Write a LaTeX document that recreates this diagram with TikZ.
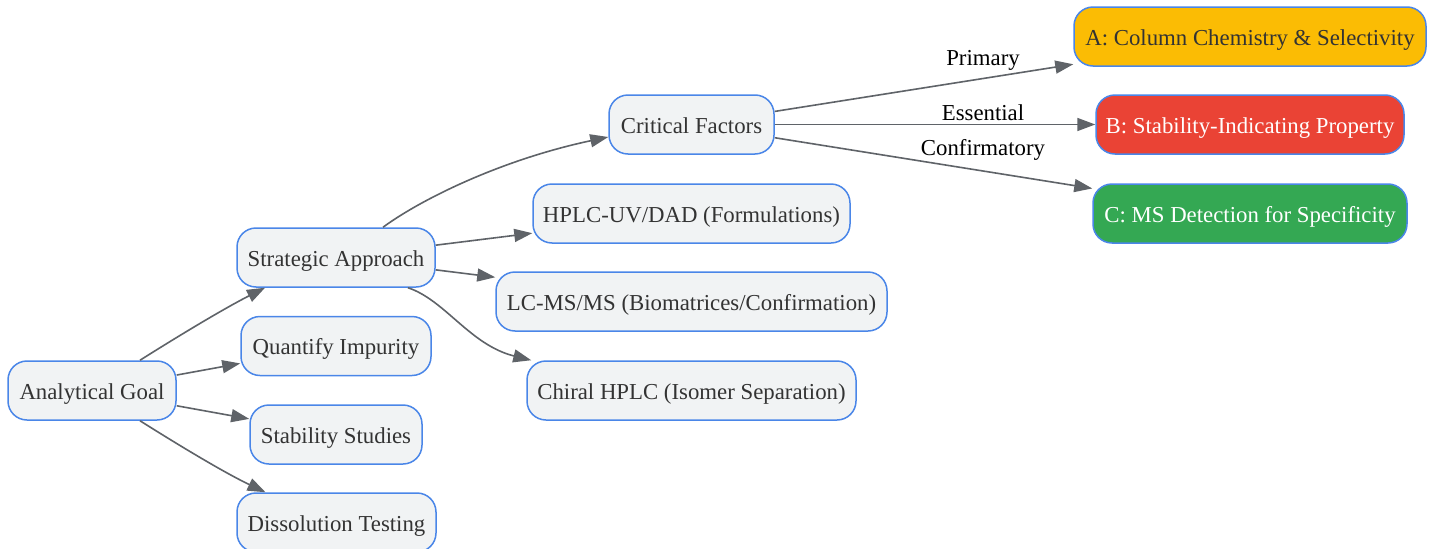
\documentclass[tikz,border=0pt]{standalone}
\usepackage{fontspec}
\setmainfont{Liberation Serif}
\usetikzlibrary{arrows.meta,calc}
\definecolor{nodefill}{HTML}{F1F3F4}
\definecolor{nodeborder}{HTML}{4A86E8}
\definecolor{edgecol}{HTML}{5F6368}
\definecolor{txt}{HTML}{333333}
\definecolor{yel}{HTML}{FBBC04}
\definecolor{red}{HTML}{EA4335}
\definecolor{grn}{HTML}{34A853}
\tikzset{
  box/.style={draw=nodeborder, fill=nodefill, line width=1.5pt, rounded corners=19pt,
    minimum height=59pt, inner sep=0pt, text=txt, text height=18.5pt, text depth=1.5pt,
    font=\fontsize{22.8}{27}\selectfont},
  edge/.style={draw=edgecol, line width=1.6pt, -{Triangle[length=18pt,width=13pt]}},
  lbl/.style={text=black, font=\fontsize{22.8}{27}\selectfont, inner sep=0pt, anchor=base}
}
\begin{document}
\begin{tikzpicture}[x=1pt,y=-1pt]
\useasboundingbox (0,0) rectangle (1436,549);
\fill[white] (0,0) rectangle (1436,549);
% nodes
\node[box, minimum width=168pt] (goal) at (92,390.5) {Analytical Goal};
\node[box, minimum width=198pt] (strat) at (336,257.5) {Strategic Approach};
\node[box, minimum width=190pt] (quant) at (336,346) {Quantify Impurity};
\node[box, minimum width=172pt] (stab) at (336,434.5) {Stability Studies};
\node[box, minimum width=199pt] (diss) at (336.5,522.5) {Dissolution Testing};
\node[box, minimum width=165pt] (crit) at (691.5,124.5) {Critical Factors};
\node[box, minimum width=317pt] (hplc) at (691.5,213.5) {HPLC-UV/DAD (Formulations)};
\node[box, minimum width=391pt] (lcms) at (691.5,301.5) {LC-MS/MS (Biomatrices/Confirmation)};
\node[box, minimum width=329pt] (chiral) at (691.5,390.5) {Chiral HPLC (Isomer Separation)};
\node[box, minimum width=352pt, fill=yel] (fa) at (1250,36.5) {A: Column Chemistry \& Selectivity};
\node[box, minimum width=308pt, fill=red, text=white] (fb) at (1250,124.5) {B: Stability-Indicating Property};
\node[box, minimum width=314pt, fill=grn, text=white] (fc) at (1250,213.5) {C: MS Detection for Specificity};
% edges
\draw[edge] ($(goal.north)+(48,0)$) .. controls (180,335) and (225,308) .. ($(strat.south)+(-71,0)$);
\draw[edge] (goal) -- (quant);
\draw[edge] (goal) -- (stab);
\draw[edge] ($(goal.south)+(48,0)$) .. controls (180,446) and (225,473) .. ($(diss.north)+(-71,0)$);
\draw[edge] ($(strat.north)+(47,0)$) .. controls (420,200) and (500,160) .. ($(crit.west)+(0,12.5)$);
\draw[edge] (strat) -- (hplc);
\draw[edge] (strat) -- (lcms);
\draw[edge] ($(strat.south)+(72,0)$) .. controls (445,300) and (470,345) .. ($(chiral.north west)+(5,0)$);
\draw[edge] (crit) -- (fa);
\draw[edge] (crit) -- (fb);
\draw[edge] (crit) -- (fc);
% labels
\node[lbl] (lp) at (983,65.7) {Primary};
\node[lbl] (le) at (983,120) {Essential};
\node[lbl] (lc) at (983,155) {Confirmatory};
\end{tikzpicture}
\end{document}
